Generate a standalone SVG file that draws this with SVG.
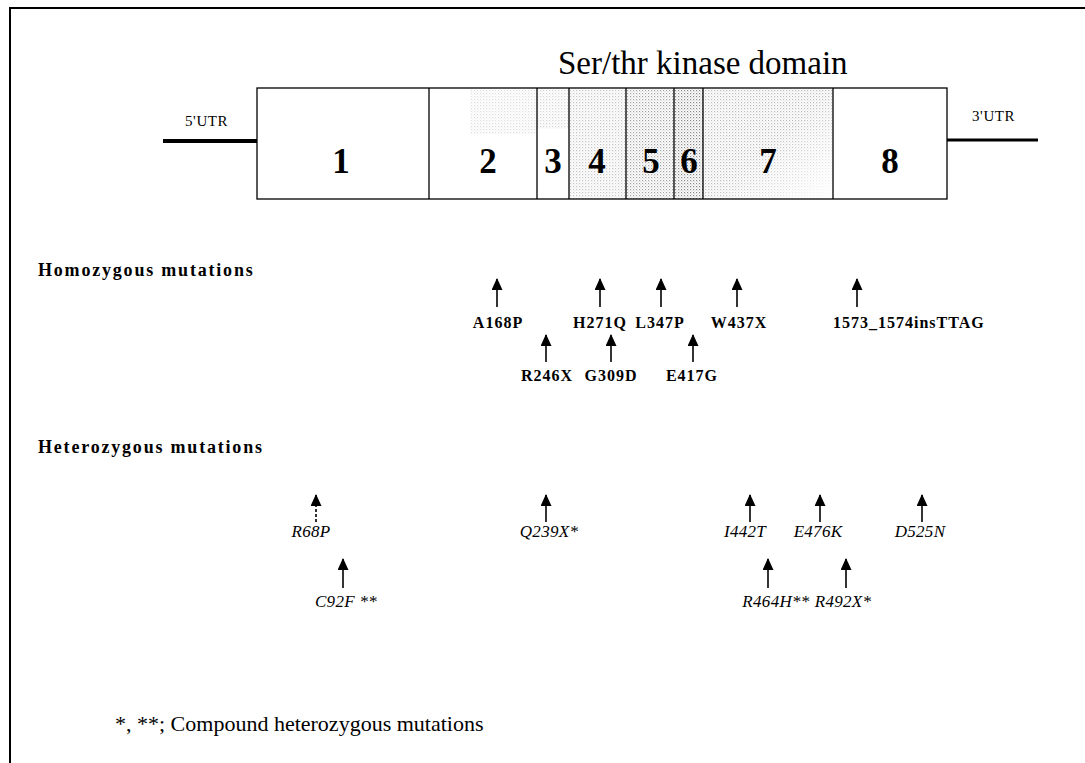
<svg xmlns="http://www.w3.org/2000/svg" width="1085" height="763" viewBox="0 0 1085 763">
<style>
.ex{fill:none;stroke:#000;stroke-width:1.3}
.num{font-family:"Liberation Serif",serif;font-weight:bold;font-size:35px;text-anchor:middle;fill:#000}
.utr{font-family:"Liberation Serif",serif;font-size:15px;letter-spacing:0.6px;fill:#000}
.title{font-family:"Liberation Serif",serif;font-size:33px;fill:#000}
.head{font-family:"Liberation Serif",serif;font-weight:bold;font-size:18px;letter-spacing:1.8px;fill:#000}
.hom{font-family:"Liberation Serif",serif;font-weight:bold;font-size:16px;letter-spacing:1px;fill:#000;text-anchor:middle}
.het{font-family:"Liberation Serif",serif;font-style:italic;font-size:17px;letter-spacing:0.3px;fill:#000;text-anchor:middle}
.foot{font-family:"Liberation Serif",serif;font-size:22px;fill:#000}
.arr{stroke:#000;stroke-width:1.6;marker-end:url(#ah)}
</style>
<defs>
<marker id="ah" markerWidth="12" markerHeight="11" refX="11" refY="5.5" orient="auto" markerUnits="userSpaceOnUse" viewBox="0 0 12 11">
<path d="M0,0 L12,5.5 L0,11 Z" fill="#000"/>
</marker>
<pattern id="dots" width="3" height="3" patternUnits="userSpaceOnUse">
<rect x="0" y="0" width="1.2" height="1.2" fill="#555"/>
<rect x="1.5" y="1.5" width="1" height="1" fill="#888"/>
</pattern>
<linearGradient id="g2" x1="0" y1="0" x2="1" y2="1">
<stop offset="0" stop-color="#fff" stop-opacity="0"/>
<stop offset="0.5" stop-color="#fff" stop-opacity="0"/>
<stop offset="1" stop-color="#fff" stop-opacity="1"/>
</linearGradient>
</defs>
<rect x="0" y="0" width="1085" height="763" fill="#fff"/>
<g id="frame">
<line x1="9" y1="8" x2="1085" y2="8" stroke="#000" stroke-width="2"/>
<line x1="10" y1="8" x2="10" y2="763" stroke="#000" stroke-width="2"/>
</g>
<g id="title"><text class="title" x="558" y="74">Ser/thr kinase domain</text></g>
<g id="gene">
<g id="shading">
<rect x="470" y="89" width="66" height="45" fill="url(#dots)" opacity="0.2"/>
<rect x="537" y="89" width="32" height="40" fill="url(#dots)" opacity="0.25"/>
<rect x="569" y="89" width="57" height="110" fill="url(#dots)" opacity="0.35"/>
<rect x="626" y="89" width="48" height="110" fill="url(#dots)" opacity="0.55"/>
<rect x="674" y="89" width="29" height="110" fill="url(#dots)" opacity="0.7"/>
<rect x="703" y="89" width="130" height="110" fill="url(#dots)" opacity="0.4"/>
<rect x="703" y="89" width="130" height="110" fill="url(#g2)"/>
</g>
<rect class="ex" x="257" y="88" width="690" height="111"/>
<line class="ex" x1="429" y1="88" x2="429" y2="199"/>
<line class="ex" x1="537" y1="88" x2="537" y2="199"/>
<line class="ex" x1="569" y1="88" x2="569" y2="199"/>
<line class="ex" x1="626" y1="88" x2="626" y2="199"/>
<line class="ex" x1="674" y1="88" x2="674" y2="199"/>
<line class="ex" x1="703" y1="88" x2="703" y2="199"/>
<line class="ex" x1="833" y1="88" x2="833" y2="199"/>
<line x1="163" y1="141" x2="257" y2="141" stroke="#000" stroke-width="4"/>
<line x1="947" y1="140" x2="1038" y2="140" stroke="#000" stroke-width="3"/>
<text class="utr" x="185" y="126">5'UTR</text>
<text class="utr" x="972" y="121">3'UTR</text>
<text class="num" x="341" y="173">1</text>
<text class="num" x="488" y="173">2</text>
<text class="num" x="553" y="173">3</text>
<text class="num" x="597" y="173">4</text>
<text class="num" x="651" y="173">5</text>
<text class="num" x="689" y="173">6</text>
<text class="num" x="768" y="173">7</text>
<text class="num" x="890" y="173">8</text>
</g>
<g id="headings">
<text class="head" x="38" y="276">Homozygous mutations</text>
<text class="head" x="38" y="453">Heterozygous mutations</text>
</g>
<g id="connectors">
<line class="arr" x1="497" y1="307" x2="497" y2="279"/>
<line class="arr" x1="600" y1="307" x2="600" y2="279"/>
<line class="arr" x1="661" y1="307" x2="661" y2="279"/>
<line class="arr" x1="737" y1="307" x2="737" y2="279"/>
<line class="arr" x1="857" y1="307" x2="857" y2="279"/>
<line class="arr" x1="546" y1="362" x2="546" y2="335"/>
<line class="arr" x1="611" y1="362" x2="611" y2="335"/>
<line class="arr" x1="693" y1="362" x2="693" y2="335"/>
<line class="arr" x1="316" y1="522" x2="316" y2="495" stroke-dasharray="3,2"/>
<line class="arr" x1="546" y1="522" x2="546" y2="495"/>
<line class="arr" x1="750" y1="522" x2="750" y2="495"/>
<line class="arr" x1="820" y1="522" x2="820" y2="495"/>
<line class="arr" x1="922" y1="522" x2="922" y2="495"/>
<line class="arr" x1="343" y1="588" x2="343" y2="559"/>
<line class="arr" x1="768" y1="588" x2="768" y2="559"/>
<line class="arr" x1="846" y1="588" x2="846" y2="559"/>
</g>
<g id="homozygous">
<text class="hom" x="498" y="328">A168P</text>
<text class="hom" x="600" y="328">H271Q</text>
<text class="hom" x="660" y="328">L347P</text>
<text class="hom" x="739" y="328">W437X</text>
<text class="hom" x="833" y="328" style="text-anchor:start">1573_1574insTTAG</text>
<text class="hom" x="547" y="381">R246X</text>
<text class="hom" x="611" y="381">G309D</text>
<text class="hom" x="692" y="381">E417G</text>
</g>
<g id="heterozygous">
<text class="het" x="311" y="537">R68P</text>
<text class="het" x="549" y="537">Q239X*</text>
<text class="het" x="745" y="537">I442T</text>
<text class="het" x="818" y="537">E476K</text>
<text class="het" x="920" y="537">D525N</text>
<text class="het" x="346" y="607">C92F **</text>
<text class="het" x="776" y="607">R464H**</text>
<text class="het" x="843" y="607">R492X*</text>
</g>
<g id="footnote"><text class="foot" x="115" y="731">*, **; Compound heterozygous mutations</text></g>
</svg>
